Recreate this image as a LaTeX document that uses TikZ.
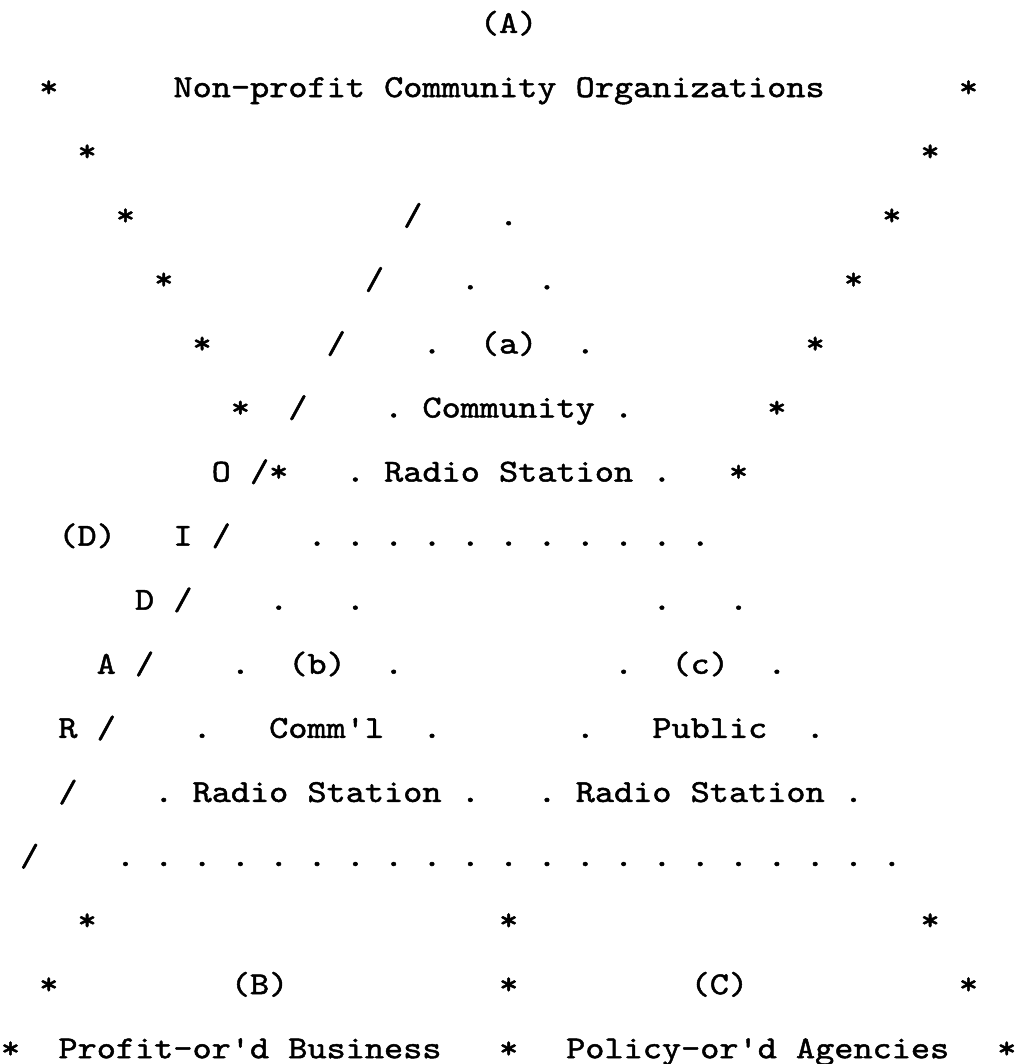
\documentclass[tikz,border=0pt]{standalone}
\usepackage{fontspec}
\setmonofont{lmmono10-regular.otf}[FakeStretch=1.14, FakeBold=1.5]
\tikzset{
  ascii/.style={
    font=\ttfamily\fontsize{24}{24}\selectfont,
    anchor=base, inner sep=0pt, outer sep=0pt
  },
  starmark/.style={ascii},
  dotmark/.style={ascii},
  slashmark/.style={ascii},
  caption/.style={ascii},
}
\begin{document}
\begin{tikzpicture}[x=14.37pt, y=-48.06pt]
  \useasboundingbox (-0.548,0.485) rectangle (52.48,17.09);

  % Top entity
  \node[caption] (capA)  at (26,1)   {(A)};
  \node[caption] (nonpr) at (25.5,2) {Non-profit Community Organizations};

  % Upper star edges
  \foreach \r in {2,...,8} {
    \pgfmathtruncatemacro{\cl}{2*\r-2}
    \pgfmathtruncatemacro{\cr}{54-2*\r}
    \node[starmark] (sl\r) at (\cl,\r) {*};
    \node[starmark] (sr\r) at (\cr,\r) {*};
  }

  % Lower star edges
  \foreach \r in {15,16,17} {
    \pgfmathtruncatemacro{\cl}{34-2*\r}
    \pgfmathtruncatemacro{\cr}{2*\r+18}
    \node[starmark] (bl\r) at (\cl,\r) {*};
    \node[starmark] (bm\r) at (26,\r)  {*};
    \node[starmark] (br\r) at (\cr,\r) {*};
  }

  % Radio edge
  \foreach \r in {4,...,14} {
    \pgfmathtruncatemacro{\cs}{29-2*\r}
    \node[slashmark] (sla\r) at (\cs,\r) {/};
  }
  \foreach \r/\ch in {8/O, 9/I, 10/D, 11/A, 12/R} {
    \pgfmathtruncatemacro{\cs}{27-2*\r}
    \node[caption] (rad\r) at (\cs,\r) {\ch};
  }
  \node[caption] (capD) at (4,9) {(D)};

  % Station triangle
  \node[dotmark] (apex) at (26,4) {.};
  \foreach \r in {5,...,13} {
    \pgfmathtruncatemacro{\cl}{34-2*\r}
    \pgfmathtruncatemacro{\cr}{2*\r+18}
    \node[dotmark] (dl\r) at (\cl,\r) {.};
    \node[dotmark] (dr\r) at (\cr,\r) {.};
  }
  \foreach \r in {10,...,13} {
    \pgfmathtruncatemacro{\cl}{2*\r-2}
    \pgfmathtruncatemacro{\cr}{54-2*\r}
    \node[dotmark] (il\r) at (\cl,\r) {.};
    \node[dotmark] (ir\r) at (\cr,\r) {.};
  }
  \foreach \c in {18,20,...,34}
    \node[dotmark] (mid\c) at (\c,9) {.};
  \foreach \c in {6,8,...,46}
    \node[dotmark] (base\c) at (\c,14) {.};

  % Station labels
  \node[caption] (capa)  at (26,6)    {(a)};
  \node[caption] (comty) at (26,7)    {Community};
  \node[caption] (rsa)   at (26,8)    {Radio Station};
  \node[caption] (capb)  at (16,11)   {(b)};
  \node[caption] (comm)  at (16.5,12) {Comm'l};
  \node[caption] (rsb)   at (16,13)   {Radio Station};
  \node[caption] (capc)  at (36,11)   {(c)};
  \node[caption] (publ)  at (36.5,12) {Public};
  \node[caption] (rsc)   at (36,13)   {Radio Station};

  % Bottom entities
  \node[caption] (capB) at (13,16)   {(B)};
  \node[caption] (capC) at (37,16)   {(C)};
  \node[caption] (busi) at (12.5,17) {Profit-or'd Business};
  \node[caption] (agen) at (39,17)   {Policy-or'd Agencies};

\end{tikzpicture}
\end{document}
